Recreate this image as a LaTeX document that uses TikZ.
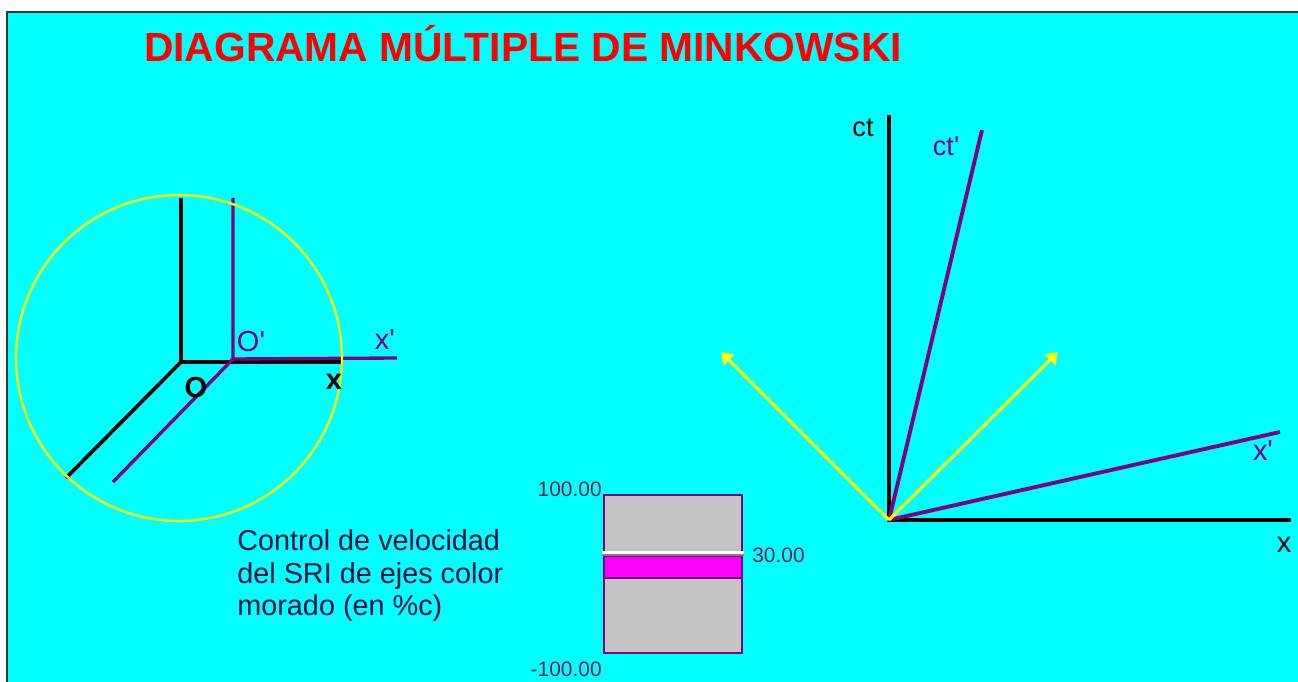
\documentclass[tikz,border=0pt]{standalone}
\usepackage{fontspec}
\setmainfont{Liberation Sans}
\usepackage{xcolor}
\usetikzlibrary{arrows.meta}
\definecolor{SkyCyan}{HTML}{00FFFF}
\definecolor{AxisPurple}{HTML}{800080}
\definecolor{RingYellow}{HTML}{FFFF00}
\definecolor{TitleRed}{HTML}{FF0000}
\definecolor{SliderGray}{HTML}{C4C4C4}
\definecolor{SliderMagenta}{HTML}{FF00FF}
\definecolor{ValueMaroon}{HTML}{6E2050}
\definecolor{TextNavy}{HTML}{0A1040}

\begin{document}
\begin{tikzpicture}[x=0.02cm, y=-0.02cm,
        blackaxis/.style={draw=black, line width=2.1pt},
        purpleaxis/.style={draw=AxisPurple, line width=1.9pt},
        bigblack/.style={draw=black, line width=2.3pt},
        bigpurple/.style={draw=AxisPurple, line width=2.2pt},
        lightray/.style={draw=RingYellow, line width=1.7pt,
                    -{Triangle[length=6.5pt, width=8.5pt]}},
        smalllabel/.style={inner sep=0pt, font=\fontsize{16.5}{18}\selectfont},
        biglabel/.style={inner sep=0pt, font=\fontsize{15.5}{18}\selectfont},
        sliderval/.style={inner sep=0pt, text=ValueMaroon,
                    font=\fontsize{11.9}{14}\selectfont}]

        % Frame
        \useasboundingbox (0,0) rectangle (1298,682);
        \fill[white] (0,0) rectangle (1298,682);
        \fill[SkyCyan] (7,12) rectangle (1298,682);
        \draw[line width=1.1pt, black!80] (7,682) -- (7,12) -- (1298,12);

        % Title
        \node[anchor=base, inner sep=0pt, text=TitleRed,
              font=\fontsize{23.2}{28}\selectfont\bfseries] (title) at (523,62)
              {DIAGRAMA MÚLTIPLE DE MINKOWSKI};

        % Left diagram: resting frame (black) and moving frame (purple)
        \coordinate (O)     at (181,362);
        \coordinate (Oup)   at (181,198);
        \coordinate (Oright) at (343,362);
        \coordinate (Odiag) at (66,478);
        \coordinate (Op)    at (233,359);
        \coordinate (Opup)  at (233,198);
        \coordinate (Opright) at (397,358);
        \coordinate (Opdiag) at (113,482);

        \draw[blackaxis] (Oup) -- (O) -- (Oright);
        \draw[blackaxis] (O) -- (Odiag);
        \draw[purpleaxis] (Opup) -- (Op) -- (Opright);
        \draw[purpleaxis] (Op) -- (Opdiag);
        \draw[RingYellow, line width=1.3pt] (179,358) circle[radius=3.26cm];

        \node[smalllabel, text=AxisPurple] (lblOp) at (251,342) {O\textquotesingle};
        \node[smalllabel, text=AxisPurple] (lblxp) at (385,340) {x\textquotesingle};
        \node[smalllabel, font=\fontsize{16.5}{18}\selectfont\bfseries] (lblx) at (334,382) {x};
        \node[smalllabel, font=\fontsize{16.5}{18}\selectfont\bfseries] (lblO) at (196,388) {O};

        % Caption of the slider
        \node[anchor=north west, inner sep=0pt, align=left, text=TextNavy,
              font=\fontsize{16.4}{18.7}\selectfont] (caption) at (237,529)
              {Control de velocidad\\del SRI de ejes color\\morado (en \%c)};

        % Slider
        \draw[AxisPurple, fill=SliderGray, line width=0.7pt] (604,495) rectangle (742,653);
        \draw[AxisPurple, fill=SliderMagenta, line width=0.7pt] (604,556) rectangle (742,578);
        \draw[gray, line width=1.2pt] (602,555) -- (744,555);
        \draw[white, line width=1.3pt] (602,552.5) -- (744,552.5);
        \node[sliderval, anchor=east] (vmax) at (602,489) {100.00};
        \node[sliderval, anchor=west] (vcur) at (752,555) {30.00};
        \node[sliderval, anchor=east] (vmin) at (602,669) {-100.00};

        % Right diagram: Minkowski axes
        \coordinate (Org)   at (889,520);
        \coordinate (ctTop) at (889,115);
        \coordinate (xEnd)  at (1291,520);
        \coordinate (ctpTop) at (982,130);
        \coordinate (xpEnd) at (1280,432);
        \coordinate (rayL)  at (721,352);
        \coordinate (rayR)  at (1058,352);

        \draw[bigblack] (ctTop) -- (Org) -- (xEnd);
        \draw[bigpurple] (Org) -- (ctpTop);
        \draw[bigpurple] (Org) -- (xpEnd);
        \draw[lightray] (Org) -- (rayL);
        \draw[lightray] (Org) -- (rayR);

        \node[biglabel] (lblct)  at (863,128) {ct};
        \node[biglabel, text=AxisPurple] (lblctp) at (946,146) {ct\textquotesingle};
        \node[biglabel, text=AxisPurple, font=\fontsize{16.5}{18}\selectfont] (lblxpR) at (1263,451) {x\textquotesingle};
        \node[biglabel, font=\fontsize{16.5}{18}\selectfont] (lblxR) at (1284,545) {x};
      \end{tikzpicture}
\end{document}
